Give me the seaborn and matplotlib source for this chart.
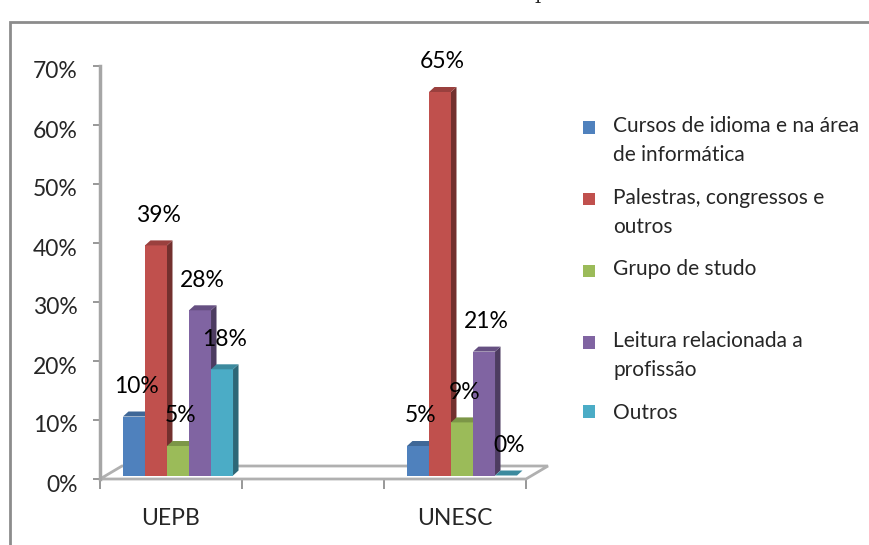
import pandas as pd
import matplotlib
matplotlib.use("Agg")
import matplotlib.pyplot as plt
import matplotlib.colors as mcolors
from matplotlib.patches import Polygon, Rectangle
from matplotlib.transforms import offset_copy, ScaledTranslation
from matplotlib.legend_handler import HandlerPatch
import seaborn as sns

# dados do gráfico
instituicoes = ["UEPB", "UNESC"]
categorias = ["Cursos de idioma e na área de informática",
              "Palestras, congressos e outros",
              "Grupo de studo",
              "Leitura relacionada a profissão",
              "Outros"]
legenda = ["Cursos de idioma e na área\nde informática",
           "Palestras, congressos e\noutros",
           "Grupo de studo\n ",
           "Leitura relacionada a\nprofissão",
           "Outros"]
valores_uepb = [0.10, 0.39, 0.05, 0.28, 0.18]
valores_unesc = [0.05, 0.65, 0.09, 0.21, 0.00]
rotulos_y = ["0%", "10%", "20%", "30%", "40%", "50%", "60%", "70%"]
ticks_y = [0.0, 0.1, 0.2, 0.3, 0.4, 0.5, 0.6, 0.7]

cores = ["#4F81BD", "#C0504D", "#9BBB59", "#8064A2", "#4BACC6"]

df = pd.DataFrame({
    "Instituicao": ["UEPB"] * 5 + ["UNESC"] * 5,
    "Categoria": categorias * 2,
    "Valor": valores_uepb + valores_unesc,
})

sns.set_theme(style="white")
plt.rcParams["font.family"] = ["Lato", "DejaVu Sans"]

fig = plt.figure(figsize=(8.7, 5.45), dpi=100)
ax = fig.add_axes([100 / 870, 66 / 545, 426 / 870, 413 / 545])

ordem = ["UEPB", " ", "UNESC"]
sns.barplot(data=df, x="Instituicao", y="Valor", hue="Categoria",
            order=ordem, hue_order=categorias, palette=cores,
            width=0.775, saturation=1, ax=ax, errorbar=None,
            linewidth=0)

handles, labels = ax.get_legend_handles_labels()
if ax.legend_ is not None:
    ax.legend_.remove()

barras = [p for p in ax.patches if isinstance(p, Rectangle) and p.get_width() > 0]
barras = sorted(barras, key=lambda p: p.get_x())

ax.set_xlim(-0.5, 2.5)
ax.set_ylim(0, 0.7)

# efeito 3D: deslocamento das barras e profundidade
px_x = 142.0   # pixels por categoria
px_y = 590.0   # pixels por unidade (100%)
trans_barras = offset_copy(ax.transData, fig=fig, x=7, y=3.5, units="dots")
trans_txt = offset_copy(ax.transData, fig=fig, x=7, y=3.5 + 25, units="dots")
dx = 5.5 / px_x
dy = 5.0 / px_y

# piso
dxf = 22 / px_x
dyf = 13 / px_y
piso = Polygon([(-0.5, 0), (2.5, 0), (2.5 + dxf, dyf), (-0.5 + dxf, dyf)],
               closed=True, facecolor="white", edgecolor="#b0b0b0",
               linewidth=2, clip_on=False, zorder=1)
ax.add_patch(piso)

for i, b in enumerate(barras):
    x0 = b.get_x()
    x1 = x0 + b.get_width()
    h = b.get_height()
    cor = mcolors.to_rgb(b.get_facecolor())
    z = 3 + i * 0.01
    b.set_transform(trans_barras)
    b.set_zorder(z)
    b.set_clip_on(False)
    lado = Polygon([(x1, 0), (x1 + dx, dy), (x1 + dx, h + dy), (x1, h)],
                   closed=True, facecolor=[c * 0.6 for c in cor],
                   edgecolor="none", transform=trans_barras, zorder=z,
                   clip_on=False)
    topo = Polygon([(x0, h), (x1, h), (x1 + dx, h + dy), (x0 + dx, h + dy)],
                   closed=True, facecolor=[c * 0.8 for c in cor],
                   edgecolor="none", transform=trans_barras, zorder=z,
                   clip_on=False)
    ax.add_patch(lado)
    ax.add_patch(topo)
    ax.text((x0 + x1) / 2 + dx / 2, h + dy, f"{h * 100:.0f}%",
            transform=trans_txt, ha="center", va="center",
            fontsize=16.5, color="black", zorder=10)

# eixos
for s in ["top", "right", "bottom"]:
    ax.spines[s].set_visible(False)
ax.spines["left"].set_color("#a6a6a6")
ax.spines["left"].set_linewidth(2.5)

ax.set_yticks(ticks_y)
ax.set_yticklabels(rotulos_y)
ax.tick_params(axis="y", which="major", left=True, length=5, width=1.3,
               color="#909090", pad=11, labelsize=16.5)
ax.set_xticks([0, 1, 2])
ax.set_xticklabels(["UEPB", "", "UNESC"])
ax.set_xticks([-0.5, 0.5, 1.5, 2.5], minor=True)
ax.tick_params(axis="x", which="major", length=0, pad=21, labelsize=16.5)
ax.tick_params(axis="x", which="minor", bottom=True, length=7, width=1.3,
               color="#909090")
desce = ScaledTranslation(0, -4 / 100, fig.dpi_scale_trans)
for lbl in ax.get_yticklabels():
    lbl.set_transform(lbl.get_transform() + desce)
ax.set_xlabel("")
ax.set_ylabel("")
ax.patch.set_alpha(0)


# legenda: quadrado alinhado com a primeira linha do texto
def quadrado(sobe):
    def f(legend, orig_handle, xdescent, ydescent, width, height, fontsize):
        return Rectangle((-xdescent, -ydescent + sobe), width, height)
    return HandlerPatch(patch_func=f)


mapa = {}
for h_, txt in zip(handles, legenda):
    linhas = txt.count("\n") + 1
    mapa[h_] = quadrado(9.8 * (linhas - 1))

leg = fig.legend(handles, legenda, loc="upper left",
                 bbox_to_anchor=(583 / 870, 1 - 116 / 545),
                 frameon=False, fontsize=15, handlelength=0.58,
                 handleheight=0.55, handletextpad=0.87, labelspacing=1.1,
                 borderpad=0, borderaxespad=0, handler_map=mapa)
for t in leg.get_texts():
    t.set_linespacing(1.55)

# moldura da área do gráfico
fig.patches.append(Rectangle((10 / 870, -0.1), 1.2, 1.1 - 22 / 545,
                             transform=fig.transFigure, fill=False,
                             edgecolor="#8c8c8c", linewidth=2))
fig.text(541 / 870, 1 + 1 / 545, "p", family="serif", fontsize=14,
         ha="center", va="baseline")

fig.savefig("out.png", dpi=100)
